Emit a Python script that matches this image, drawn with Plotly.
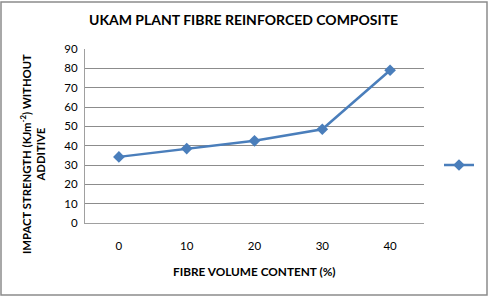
import plotly.graph_objects as go

fibre_content = ["0", "10", "20", "30", "40"]
impact_strength = [34.2, 38.5, 42.5, 48.5, 79.0]
y_ticks = [0, 10, 20, 30, 40, 50, 60, 70, 80, 90]

W, H = 491, 298
L, R, T, B = 85, 67, 49, 75
pw, ph = W - L - R, H - T - B

def px_x(x):
    return (x - L) / pw

def px_y(y):
    return (H - B - y) / ph

blue = "#4A7EBB"
font = "Lato"

fig = go.Figure()
fig.add_trace(go.Scatter(
    x=fibre_content, y=impact_strength, mode="lines+markers", name=" ",
    line=dict(color=blue, width=2.5),
    marker=dict(symbol="diamond", size=9, color=blue),
    showlegend=True,
))

fig.update_layout(
    width=W, height=H,
    margin=dict(l=L, r=R, t=T, b=B, autoexpand=False),
    paper_bgcolor="white", plot_bgcolor="white",
    font=dict(family=font, color="#000000"),
    showlegend=True,
    legend=dict(x=px_x(439), y=px_y(165), xanchor="left", yanchor="middle",
                bgcolor="rgba(0,0,0,0)", font=dict(size=11), itemwidth=30),
    xaxis=dict(type="category", range=[-0.5, 4.5], showgrid=False,
               showline=True, linecolor="#A0A0A0", linewidth=1,
               ticks="", tickfont=dict(size=11.5, family=font), ticklabelstandoff=12),
    yaxis=dict(range=[0, 90], tickvals=y_ticks, showgrid=True,
               gridcolor="#8C8C8C", gridwidth=1, zeroline=False,
               showline=True, linecolor="#A0A0A0", linewidth=1,
               ticks="", tickfont=dict(size=11.5, family=font), ticklabelstandoff=4),
    annotations=[
        dict(text="<b>UKAM PLANT FIBRE REINFORCED COMPOSITE</b>", xref="paper", yref="paper",
             x=px_x(243), y=px_y(20), xanchor="center", yanchor="middle", showarrow=False,
             font=dict(size=14, family=font)),
        dict(text="<b>FIBRE VOLUME CONTENT (%)</b>", xref="paper", yref="paper",
             x=px_x(254), y=px_y(271), xanchor="center", yanchor="middle", showarrow=False,
             font=dict(size=11.8, family=font)),
        dict(text="<b>IMPACT STRENGTH (KJm<sup>-2</sup>) WITHOUT<br>ADDITIVE</b>", xref="paper", yref="paper",
             x=px_x(32), y=px_y(154), xanchor="center", yanchor="middle", showarrow=False,
             textangle=-90, font=dict(size=11.3, family=font)),
    ],
    shapes=[dict(type="rect", xref="paper", yref="paper",
                 x0=px_x(1), x1=px_x(487), y0=px_y(295), y1=px_y(2),
                 line=dict(color="#8C8C8C", width=1.5), layer="below")],
)

fig.write_html("out.html")
